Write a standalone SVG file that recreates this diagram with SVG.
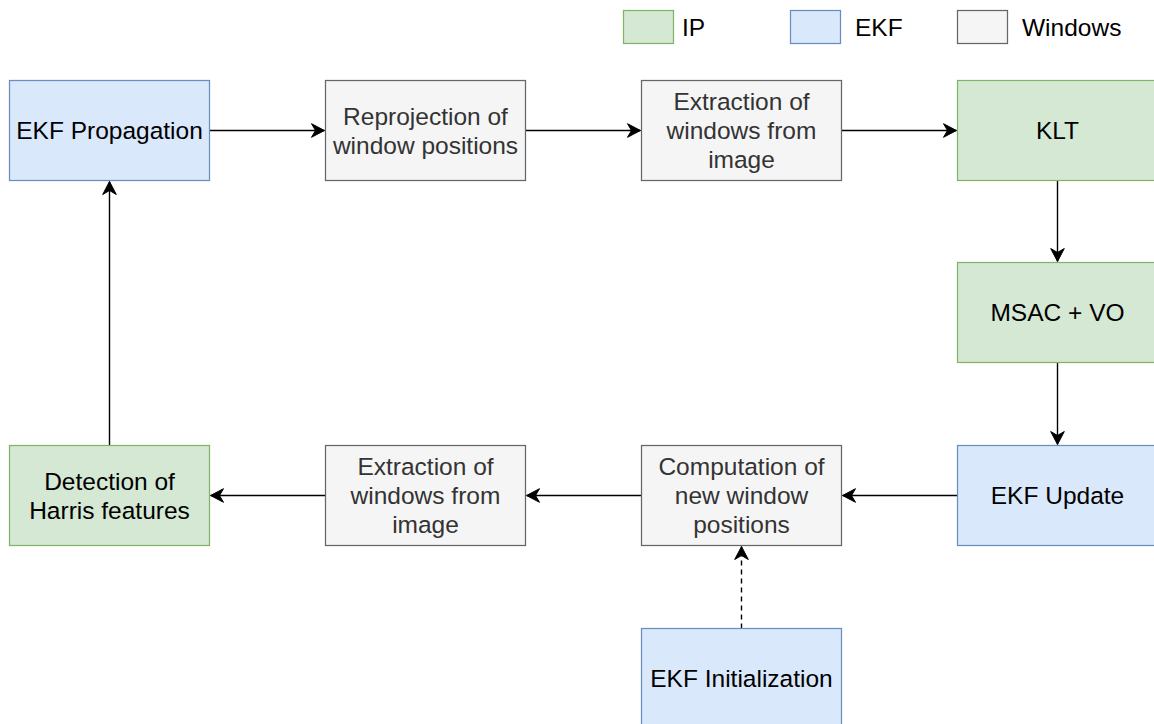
<svg xmlns="http://www.w3.org/2000/svg" width="1154" height="724" viewBox="0 0 1154 724">
<defs>
<style>
text{font-family:"Liberation Sans",Arial,sans-serif;font-size:24.5px;text-anchor:middle;fill:#000}
.lt{text-anchor:start}
.ip{fill:#d5e8d4;stroke:#82b366;stroke-width:1.25}
.ekf{fill:#dae8fc;stroke:#6c8ebf;stroke-width:1.25}
.win{fill:#f5f5f5;stroke:#666666;stroke-width:1.25}
.wt{fill:#333333}
.c{fill:none;stroke:#000;stroke-width:1.4}
.d{stroke-dasharray:5 4}
</style>
<marker id="ah" markerUnits="userSpaceOnUse" viewBox="-15 -8 16 16" refX="0" refY="0" markerWidth="16" markerHeight="16" orient="auto">
<path d="M0,0 L-13,-6.8 L-9,0 L-13,6.8 Z" fill="#000" stroke="#000" stroke-width="1"/>
</marker>
</defs>
<rect width="1154" height="724" fill="#ffffff"/>

<g id="legend">
<rect class="ip" x="623.5" y="10.5" width="50" height="33"/>
<text class="lt" x="682" y="35.5">IP</text>
<rect class="ekf" x="790.5" y="10.5" width="50" height="33"/>
<text class="lt" x="855" y="35.5">EKF</text>
<rect class="win" x="957.5" y="10.5" width="50" height="33"/>
<text class="lt" x="1022" y="35.5">Windows</text>
</g>

<g id="connectors">
<path class="c" d="M209.5,130.5 H324.5" marker-end="url(#ah)"/>
<path class="c" d="M525.5,130.5 H640.5" marker-end="url(#ah)"/>
<path class="c" d="M841.5,130.5 H956.5" marker-end="url(#ah)"/>
<path class="c" d="M1057.5,180.5 V261.5" marker-end="url(#ah)"/>
<path class="c" d="M1057.5,362.5 V444.5" marker-end="url(#ah)"/>
<path class="c" d="M957.5,495.5 H842.5" marker-end="url(#ah)"/>
<path class="c" d="M641.5,495.5 H526.5" marker-end="url(#ah)"/>
<path class="c" d="M325.5,495.5 H210.5" marker-end="url(#ah)"/>
<path class="c" d="M109.5,445.5 V181.5" marker-end="url(#ah)"/>
<path class="c d" d="M741.5,628.5 V546.5" marker-end="url(#ah)"/>
</g>

<g id="ekf-propagation">
<rect class="ekf" x="9.5" y="80.5" width="200" height="100"/>
<text x="109.5" y="139">EKF Propagation</text>
</g>
<g id="reprojection">
<rect class="win" x="325.5" y="80.5" width="200" height="100"/>
<text class="wt" x="425.5" y="124.5">Reprojection of</text>
<text class="wt" x="425.5" y="154">window positions</text>
</g>
<g id="extraction-top">
<rect class="win" x="641.5" y="80.5" width="200" height="100"/>
<text class="wt" x="741.5" y="110">Extraction of</text>
<text class="wt" x="741.5" y="139">windows from</text>
<text class="wt" x="741.5" y="168">image</text>
</g>
<g id="klt">
<rect class="ip" x="957.5" y="80.5" width="200" height="100"/>
<text x="1057.5" y="139">KLT</text>
</g>
<g id="msac-vo">
<rect class="ip" x="957.5" y="262.5" width="200" height="100"/>
<text x="1057.5" y="321">MSAC + VO</text>
</g>
<g id="ekf-update">
<rect class="ekf" x="957.5" y="445.5" width="200" height="100"/>
<text x="1057.5" y="504">EKF Update</text>
</g>
<g id="computation">
<rect class="win" x="641.5" y="445.5" width="200" height="100"/>
<text class="wt" x="741.5" y="475">Computation of</text>
<text class="wt" x="741.5" y="504">new window</text>
<text class="wt" x="741.5" y="533">positions</text>
</g>
<g id="extraction-bottom">
<rect class="win" x="325.5" y="445.5" width="200" height="100"/>
<text class="wt" x="425.5" y="475">Extraction of</text>
<text class="wt" x="425.5" y="504">windows from</text>
<text class="wt" x="425.5" y="533">image</text>
</g>
<g id="harris">
<rect class="ip" x="9.5" y="445.5" width="200" height="100"/>
<text x="109.5" y="489.5">Detection of</text>
<text x="109.5" y="519">Harris features</text>
</g>
<g id="ekf-initialization">
<rect class="ekf" x="641.5" y="628.5" width="200" height="100"/>
<text x="741.5" y="687">EKF Initialization</text>
</g>
</svg>
